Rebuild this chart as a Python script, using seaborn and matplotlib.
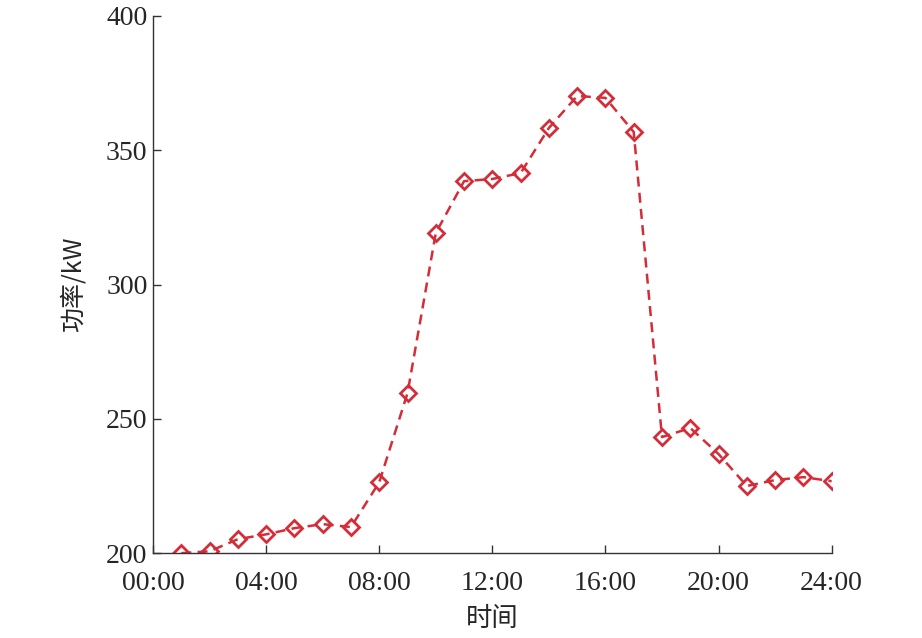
import pandas as pd
import matplotlib.pyplot as plt
import seaborn as sns

# hourly power readings (hour 1..24)
hours = list(range(1, 25))
power = [200.0, 200.7, 205.2, 207.0, 209.3, 210.8, 209.7, 226.4, 259.6, 319.2,
         338.5, 339.3, 341.5, 358.3, 370.2, 369.5, 356.8, 243.2, 246.6, 236.9,
         225.0, 227.2, 228.3, 226.8]
tick_hours = [0, 4, 8, 12, 16, 20, 24]
tick_labels = ["00:00", "04:00", "08:00", "12:00", "16:00", "20:00", "24:00"]
y_ticks = [200, 250, 300, 350, 400]

df = pd.DataFrame({"hour": hours, "power": power})

sns.set_style("ticks")
plt.rcParams["font.family"] = ["Liberation Serif", "Noto Sans CJK SC"]

fig = plt.figure(figsize=(9.22, 6.38), dpi=100)
ax = fig.add_axes([0.166, 0.133, 0.736, 0.842])

sns.lineplot(data=df, x="hour", y="power", ax=ax, color="#d42d38",
             linestyle="--", linewidth=1.8, marker="D", markersize=8.5,
             markerfacecolor="none", markeredgecolor="#d42d38",
             markeredgewidth=2, dashes=False)
ax.lines[0].set_linestyle((0, (4, 2.5)))

ax.set_xlim(0, 24)
ax.set_ylim(200, 400)
ax.set_xticks(tick_hours)
ax.set_xticklabels(tick_labels)
ax.set_yticks(y_ticks)
ax.tick_params(direction="in", length=6, width=1, labelsize=20, color="#333333")
ax.tick_params(axis="x", pad=13)
ax.tick_params(axis="y", pad=4)
for s in ["left", "bottom"]:
    ax.spines[s].set_color("#333333")
    ax.spines[s].set_linewidth(1)
sns.despine(ax=ax)

ax.set_xlabel("时间", fontsize=19, family=["Noto Sans CJK SC", "Liberation Serif"], labelpad=6)
ax.set_ylabel("功率/kW", fontsize=18, family=["Noto Sans CJK SC", "Liberation Serif"], labelpad=14)

fig.savefig("out.png", dpi=100)
